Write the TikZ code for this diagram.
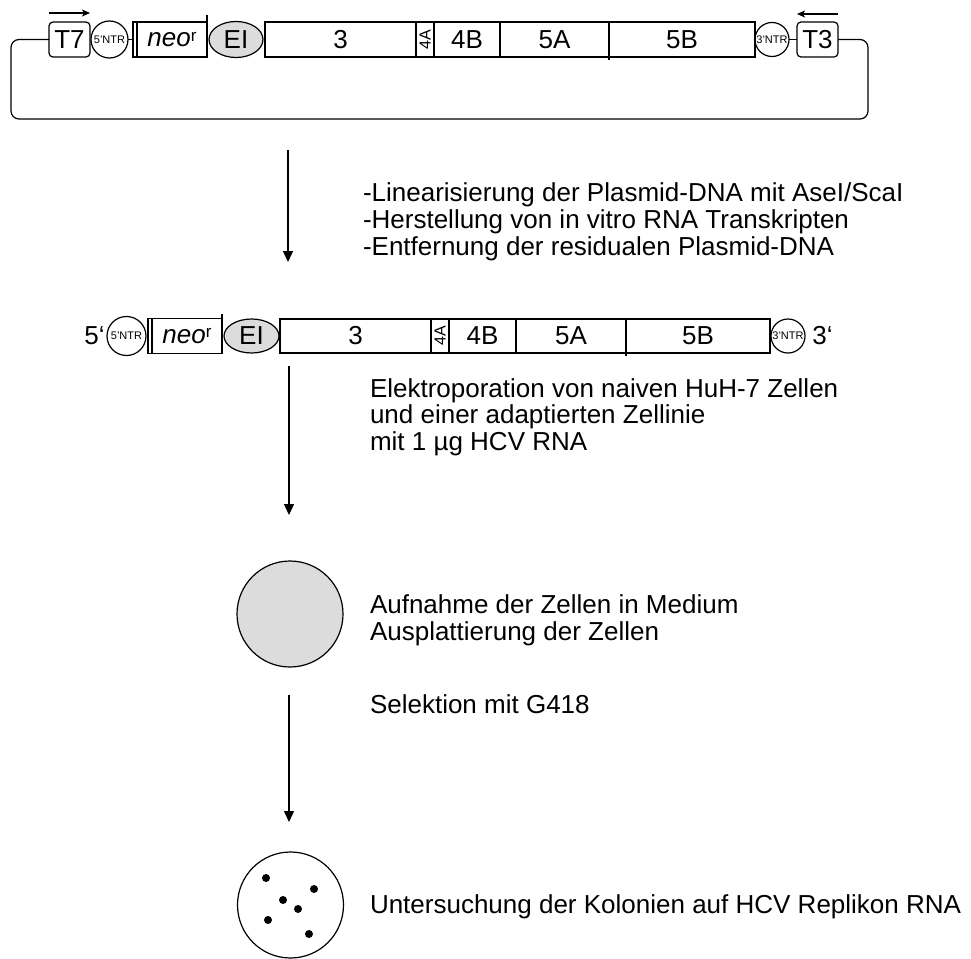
\documentclass[tikz,border=0pt]{standalone}
\usepackage{fontspec}
\setmainfont{Liberation Sans}
\usetikzlibrary{arrows.meta,shapes.geometric}
\definecolor{lg}{HTML}{DCDCDC}
\newcommand{\neor}{\textit{neo}\raisebox{0.42ex}{\fontsize{17}{17}\selectfont r}}
\begin{document}
\begin{tikzpicture}[x=1pt,y=-1pt,line width=1.2pt,
  every node/.style={inner sep=0pt,outer sep=0pt},
  big/.style={font=\fontsize{26}{27}\selectfont},
  txt/.style={big,anchor=base west},
  segbox/.style={draw,rectangle,minimum height=35pt,big},
  prom/.style={draw,rectangle,rounded corners=4pt,minimum height=35pt,minimum width=41pt,big},
  ntr/.style={draw,circle,font=\fontsize{11}{11}\selectfont},
  eibox/.style={draw,ellipse,fill=lg,big},
  flow/.style={line width=1.3pt,-{Triangle[length=11pt,width=10pt]}},
  dirarrow/.style={line width=1.3pt,-{Stealth[length=8pt,width=7pt,inset=2pt]}},
  dot/.style={fill=black}
]
\useasboundingbox (0,0) rectangle (971,958);

% ---------- plasmid (top row) ----------
\node[prom] (T7) at (69.5,39.5) {T7};
\node[ntr,minimum size=37pt] (n5a) at (109.5,39.5) {5'NTR};
\node[segbox,minimum width=74pt] (neoa) at (170,39.5) {};
\node[big] (neoat) at (172,39.5) {\neor};
\draw ([xshift=4pt]neoa.north west) -- ([xshift=4pt]neoa.south west);
\draw (neoa.south east) -- ++(0,-42);
\node[eibox,minimum width=54pt,minimum height=36pt] (eia) at (236,39.5) {EI};
\node[segbox,minimum width=151pt] (s3a) at (340.5,39.5) {3};
\node[segbox,rotate=90,minimum width=35pt,minimum height=18pt,font=\fontsize{16}{16}\selectfont] (s4Aa) at (425,39.5) {4A};
\node[segbox,minimum width=66pt] (s4Ba) at (467,39.5) {4B};
\node[segbox,minimum width=109pt] (s5Aa) at (554.5,39.5) {5A};
\node[segbox,minimum width=146pt] (s5Ba) at (682,39.5) {5B};
\draw (s5Aa.south east) -- ++(0,3);
\node[ntr,minimum size=34pt] (n3a) at (772,39.5) {3'NTR};
\node[prom] (T3) at (817.5,39.5) {T3};
\draw (n5a.east) -- (neoa.west);
\draw (n3a.east) -- (T3.west);
\coordinate (loopL) at (11,119);
\coordinate (loopR) at (868,119);
\draw[rounded corners=8pt] (T7.west) -| (loopL) -- (loopR) |- (T3.east);
\draw[dirarrow] ([yshift=9pt]T7.north west) -- ([yshift=9pt]T7.north east);
\draw[dirarrow] ([yshift=8pt]T3.north east) -- ([yshift=8pt]T3.north west);

% ---------- arrow 1 and text ----------
\coordinate (a1s) at (288,150);
\coordinate (a1e) at (288,262);
\draw[flow] (a1s) -- (a1e);
\node[txt] (t1a) at (363,201) {-Linearisierung der Plasmid-DNA mit AseI/ScaI};
\node[txt] (t1b) at (363,228) {-Herstellung von in vitro RNA Transkripten};
\node[txt] (t1c) at (363,255) {-Entfernung der residualen Plasmid-DNA};

% ---------- RNA row ----------
\node[big] (p5) at (94.5,336) {5‘};
\node[ntr,minimum size=39pt] (n5b) at (126.5,336) {5'NTR};
\node[segbox,minimum width=74pt] (neob) at (185,336) {};
\node[big] (neobt) at (187,336) {\neor};
\draw ([xshift=4pt]neob.north west) -- ([xshift=4pt]neob.south west);
\draw (neob.south east) -- ++(0,-40);
\node[eibox,minimum width=55pt,minimum height=34pt] (eib) at (251.5,336) {EI};
\node[segbox,minimum width=151pt,minimum height=34pt] (s3b) at (355.5,336) {3};
\node[segbox,rotate=90,minimum width=34pt,minimum height=18pt,font=\fontsize{16}{16}\selectfont] (s4Ab) at (440,336) {4A};
\node[segbox,minimum width=67pt,minimum height=34pt] (s4Bb) at (482.5,336) {4B};
\node[segbox,minimum width=110pt,minimum height=34pt] (s5Ab) at (571,336) {5A};
\node[segbox,minimum width=144pt,minimum height=34pt] (s5Bb) at (698,336) {5B};
\draw (s5Ab.south east) -- ++(0,3);
\node[ntr,minimum size=34pt] (n3b) at (788,336) {3'NTR};
\node[big] (p3) at (822.5,336) {3‘};

% ---------- arrow 2 and text ----------
\coordinate (a2s) at (289,366);
\coordinate (a2e) at (289,515);
\draw[flow] (a2s) -- (a2e);
\node[txt] (t2a) at (370,397) {Elektroporation von naiven HuH-7 Zellen};
\node[txt] (t2b) at (370,423) {und einer adaptierten Zellinie};
\node[txt] (t2c) at (370,450) {mit 1 µg HCV RNA};

% ---------- cells ----------
\node[draw,circle,fill=lg,minimum size=106pt] (cells) at (290,614) {};
\node[txt] (t3a) at (370,613) {Aufnahme der Zellen in Medium};
\node[txt] (t3b) at (370,640) {Ausplattierung der Zellen};

% ---------- arrow 3 and text ----------
\coordinate (a3s) at (289,695);
\coordinate (a3e) at (289,822);
\draw[flow] (a3s) -- (a3e);
\node[txt] (t4) at (370,713) {Selektion mit G418};

% ---------- colonies ----------
\node[draw,circle,minimum size=106pt] (col) at (290.5,905) {};
\foreach \px/\py in {266/878,314/889,283/900,298/909,268/920,309/934}
  \fill (\px,\py) circle (4pt);
\node[txt] (t5) at (370,913) {Untersuchung der Kolonien auf HCV Replikon RNA};
\end{tikzpicture}
\end{document}
